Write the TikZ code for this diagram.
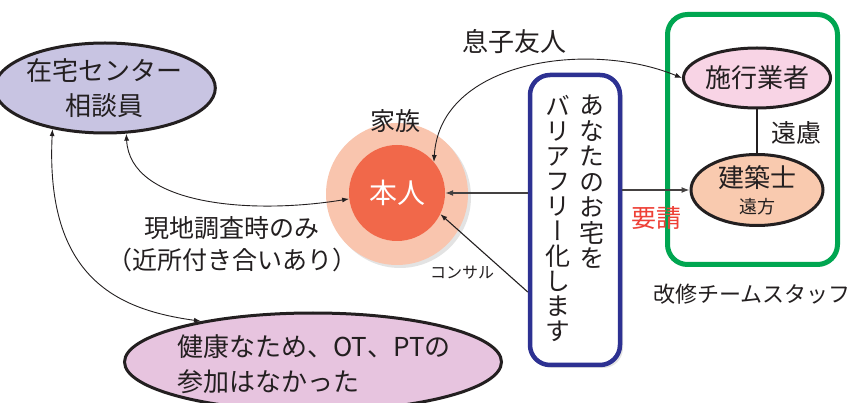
\documentclass[tikz,border=0pt]{standalone}
\usepackage{fontspec}
\setmainfont{Noto Sans CJK JP}
\newfontfamily\vjp[RawFeature=+vert]{Noto Sans CJK JP}
\usetikzlibrary{shapes.geometric,arrows.meta,shadows}
\definecolor{ink}{HTML}{231F20}
\definecolor{lav}{HTML}{C8C4E2}
\definecolor{pinkfill}{HTML}{F8D4E5}
\definecolor{salmonfill}{HTML}{F9CAAF}
\definecolor{kenkofill}{HTML}{E7C4DF}
\definecolor{outercirc}{HTML}{F9C5AE}
\definecolor{innercirc}{HTML}{F1684A}
\definecolor{navyb}{HTML}{2D3192}
\definecolor{greenb}{HTML}{00A651}
\definecolor{redtxt}{HTML}{EE4036}
\newcommand\fs[2]{\fontsize{#1}{#2}\selectfont}
\tikzset{
  ell/.style={ellipse, draw=ink, line width=3pt, inner sep=0pt, align=center, text=ink},
  arr/.style={-{Latex[length=7pt,width=5pt]}, line width=0.9pt, draw=ink},
  dbl/.style={{Latex[length=7pt,width=5pt]}-{Latex[length=7pt,width=5pt]}, line width=0.9pt, draw=ink},
  harr/.style={-{Latex[length=8pt,width=6pt]}, line width=1.3pt, draw=ink!85},
  lbl/.style={text=ink, inner sep=0pt, align=center},
  softshadow/.style={drop shadow={opacity=0.22, shadow xshift=3pt, shadow yshift=-3pt}}
}
\begin{document}
\begin{tikzpicture}[x=1pt,y=-1pt]
\useasboundingbox (0,0) rectangle (849,403);
\fill[white] (0,0) rectangle (849,403);

% family circle
\node[circle, fill=outercirc, minimum size=142pt, inner sep=0, softshadow] (kazoku) at (397,194) {};
\node[circle, fill=innercirc, minimum size=96pt, inner sep=0, text=white, font=\fs{28}{30}] (honnin) at (397,193) {本人};
\node[lbl, font=\fs{25}{27}] (kazokuLabel) at (395,121) {家族};

% left ellipses
\node[ell, fill=lav, minimum width=190pt, minimum height=90pt, font=\fs{26}{35}] (zaitaku) at (105,88) {在宅センター\\相談員};
\node[ell, fill=kenkofill, minimum width=377pt, minimum height=98pt] (kenko) at (313,362) {};
\node[lbl, align=left, font=\fs{26}{35}] (kenkoText) at (314,364) {健康なため、OT、PTの\\参加はなかった};

% blue box
\node[draw=navyb, line width=4.5pt, rounded corners=20pt, fill=white, minimum width=90pt, minimum height=290pt, inner sep=0, softshadow] (boxb) at (575,220) {};
\node[lbl, anchor=north, font=\vjp\fs{25}{25.5}] (col1) at (592,95) {あ\\な\\た\\の\\お\\宅\\を};
\node[lbl, anchor=north, font=\vjp\fs{25}{25}] (col2) at (558,95) {バ\\リ\\ア\\フ\\リ\\ー\\化\\し\\ま\\す};

% green team box
\node[draw=greenb, line width=5pt, rounded corners=20pt, minimum width=170pt, minimum height=250pt, inner sep=0] (team) at (752.5,139.5) {};
\node[ell, fill=pinkfill, minimum width=132pt, minimum height=60pt, font=\fs{26}{28}] (sekou) at (757,78) {施行業者};
\node[ell, fill=salmonfill, minimum width=132pt, minimum height=71pt, font=\fs{26}{27}] (kenchiku) at (757,190) {建築士\\[-1pt]{\fs{18}{20}遠方}};
\draw[line width=1.3pt, draw=ink] (sekou) -- (kenchiku);
\node[lbl, font=\fs{25}{27}] (enryo) at (796,133) {遠慮};
\node[lbl, font=\fs{22}{24}] (teamLabel) at (752,294) {改修チームスタッフ};

% connectors
\draw[dbl] (honnin.40) .. controls (440,60) and (590,40) .. (sekou.west);
\node[lbl, font=\fs{26}{28}] (musuko) at (514,42) {息子友人};

\draw[dbl] (zaitaku.-65) .. controls (130,205) and (250,215) .. (honnin.187);
\node[lbl, font=\fs{25}{32}] (genchi) at (232,244) {現地調査時のみ\\（近所付き合いあり）};

\draw[dbl] (zaitaku.-142) .. controls (45,280) and (120,310) .. (kenko.160);

\draw[harr] (boxb.west |- honnin.east) -- (honnin.east);
\draw[harr] (boxb.east |- kenchiku.west) -- (kenchiku.west);
\node[lbl, font=\fs{25}{27}, text=redtxt] (yousei) at (656,218) {要請};

\coordinate (consStart) at (boxb.west |- {(0,292)});
\draw[arr, line width=1.1pt] (consStart) -- (honnin.-26);
\node[lbl, font=\fs{16}{18}] (consul) at (462,273) {コンサル};
\end{tikzpicture}
\end{document}
